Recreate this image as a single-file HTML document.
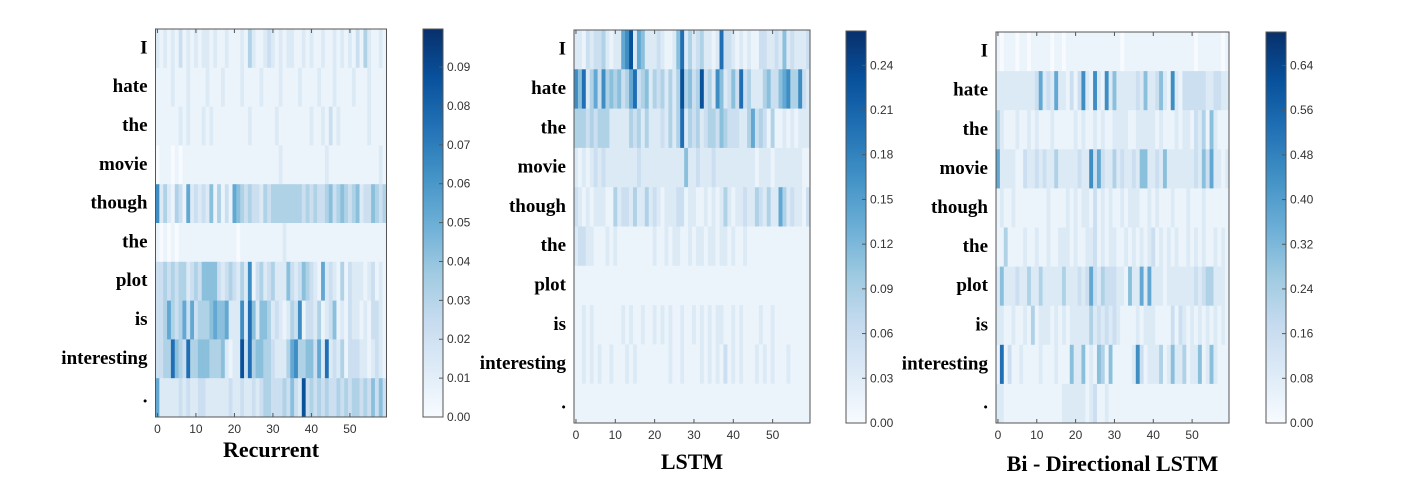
<!DOCTYPE html>
<html><head><meta charset="utf-8">
<style>
html,body{margin:0;padding:0;background:#fff;}
svg{display:block;}
</style></head>
<body>
<svg id="fig" width="1409" height="497" viewBox="0 0 1409 497" xmlns="http://www.w3.org/2000/svg">
<defs>
<linearGradient id="blues" x1="0" y1="1" x2="0" y2="0">
<stop offset="0" stop-color="#f7fbff"/><stop offset="0.125" stop-color="#deebf7"/><stop offset="0.25" stop-color="#c6dbef"/><stop offset="0.375" stop-color="#9ecae1"/><stop offset="0.5" stop-color="#6baed6"/><stop offset="0.625" stop-color="#4292c6"/><stop offset="0.75" stop-color="#2171b5"/><stop offset="0.875" stop-color="#08519c"/><stop offset="1" stop-color="#08306b"/>
</linearGradient>
</defs>
</svg>
<script>
const words = ["I","hate","the","movie","though","the","plot","is","interesting","."];
const xTicks = [0,10,20,30,40,50];
const recurrentMax = 0.0998;
const lstmMax = 0.263;
const biMax = 0.70;
const recurrentTicks = [0.00,0.01,0.02,0.03,0.04,0.05,0.06,0.07,0.08,0.09];
const lstmTicks = [0.00,0.03,0.06,0.09,0.12,0.15,0.18,0.21,0.24];
const biTicks = [0.00,0.08,0.16,0.24,0.32,0.40,0.48,0.56,0.64];
// each row: 60 attention levels (0-9, tenths of colour-scale max)
const recurrentRows = [
"212121312121221211211121421123212122112121121121212131421121",
"111121112111121112111121111211112111121111211121111211121111",
"111111212111212111111111211111121111111121121312111111121111",
"011101011111111111111111111111112111111111112111111111111121",
"724214316232325141316543433243444444443434334534543452335434",
"101010111111111111111011111111111211111111111111111111111111",
"334343442343555532343242713423422253235432162321413222123121",
"334643463634445655622272852554232124371332412351213221213321",
"334485438445554445212293845544322246744553628232413332212321",
"622222323223322222232232232344333435329343434334343443435353"];
const lstmRows = [
"221323342122679265222321125824234221283321212113322325232223",
"758246374545346834524342424945349342752353834222453356744732",
"444343444222224342422232424824342344354333224634314112121222",
"212123232222222232222222222252232223222222222212221222222211",
"321212221142332422423212223312211212124212232243242264232213",
"233221112121111111112112122112122122122121121111111111111111",
"111111111111111111111111111111111111111111111111111111111111",
"112121111111212112112121211211212121221121211112112111111111",
"112121211211121211111111211211112121213121211121212111211111",
"111111111111111111111111111111111111111111111111111111111111"];
const biRows = [
"101110110111110110111111111111110111111111111111111011111101",
"222222222236232622131372172172522222325223521721333333223322",
"421112112121112111112121121211222211222221211121221324152111",
"622221132232322422222322736322423223255223252222222325362212",
"121121111111121111212122131212112122211212111211121112111111",
"114111121121121122212112231212211212121231212121121212112121",
"252223224224222224222323632433322152262622212222222323442221",
"221121121412221212122222423232321111212221111313212121212121",
"181311211112111211152251215415111112731222412522412251252111",
"221111111111111112222221231121111111111111111111111111111111"];

const NS = "http://www.w3.org/2000/svg";
const svg = document.getElementById('fig');
const stops = [[247,251,255],[222,235,247],[198,219,239],[158,202,225],[107,174,214],[66,146,198],[33,113,181],[8,81,156],[8,48,107]];
function blues(t){t=Math.max(0,Math.min(1,t));const p=t*8;const i=Math.min(7,Math.floor(p));const f=p-i;const a=stops[i],b=stops[i+1];
return "rgb("+a.map((v,k)=>Math.round(v+(b[k]-v)*f)).join(",")+")";}
function mk(tag,attrs,parent){const e=document.createElementNS(NS,tag);for(const k in attrs)e.setAttribute(k,attrs[k]);(parent||svg).appendChild(e);return e;}

function panel(cfg){
  const g = mk('g',{});
  
  
  const cw = cfg.w/60, rh = cfg.h/10;
  const xs = i => cfg.x + i*cw;
  const ys = r => cfg.y + r*rh;
  cfg.rows.forEach((row,r)=>{
    for(let i=0;i<60;i++){
      const lvl = +(row[i]||row[row.length-1]);
      const val = Math.pow(lvl/10,1.25)*cfg.vmax;
      const c = mk('rect',{x:xs(i).toFixed(2),y:ys(r).toFixed(2),width:(cw+0.4).toFixed(2),height:(rh+0.4).toFixed(2),fill:blues(val/cfg.vmax)},g);
      
      
    }
    const t = mk('text',{x:cfg.x-8,y:ys(r)+rh/2+5,'text-anchor':'end','font-family':'Liberation Serif, serif','font-weight':'bold','font-size':19,fill:'#000'},g);
    t.textContent = words[r];
    
    
  });
  const fr = mk('rect',{x:cfg.x,y:cfg.y,width:cfg.w,height:cfg.h,fill:'none',stroke:'#555','stroke-width':1},g);
  
  
  xTicks.forEach(v=>{
    const px = xs(v)+cw/2;
    mk('line',{x1:px,x2:px,y1:cfg.y+cfg.h,y2:cfg.y+cfg.h-4,stroke:'#555'},g);
    mk('line',{x1:px,x2:px,y1:cfg.y,y2:cfg.y+4,stroke:'#555'},g);
    const t = mk('text',{x:px,y:cfg.y+cfg.h+16,'text-anchor':'middle','font-family':'Liberation Sans, sans-serif','font-size':12,fill:'#333'},g);
    t.textContent = v;
    
    
  });
  const ti = mk('text',{x:cfg.x+cfg.w/2,y:cfg.titleY,'text-anchor':'middle','font-family':'Liberation Serif, serif','font-weight':'bold','font-size':22,fill:'#000'},g);
  ti.textContent = cfg.title;
  
  
  const cb = mk('rect',{x:cfg.cbx,y:cfg.cby,width:20,height:cfg.cbh,fill:'url(#blues)',stroke:'#555','stroke-width':1},g);
  
  
  cfg.ticks.forEach(v=>{
    const py = cfg.cby+cfg.cbh - v/cfg.vmax*cfg.cbh;
    mk('line',{x1:cfg.cbx+20,x2:cfg.cbx+16,y1:py,y2:py,stroke:'#555'},g);
    const t = mk('text',{x:cfg.cbx+24,y:py+4,'font-family':'Liberation Sans, sans-serif','font-size':12,fill:'#333'},g);
    t.textContent = v.toFixed(2);
    
    
  });
}
panel({name:'recurrent',rows:recurrentRows,vmax:recurrentMax,ticks:recurrentTicks,x:155.5,y:29,w:231,h:388,title:'Recurrent',titleY:457,cbx:423,cby:29,cbh:388});
panel({name:'lstm',rows:lstmRows,vmax:lstmMax,ticks:lstmTicks,x:574,y:30,w:236,h:393,title:'LSTM',titleY:469,cbx:846,cby:31,cbh:392});
panel({name:'bi-lstm',rows:biRows,vmax:biMax,ticks:biTicks,x:996,y:32,w:233,h:391,title:'Bi - Directional LSTM',titleY:471,cbx:1266,cby:32,cbh:391});
</script>
</body></html>
